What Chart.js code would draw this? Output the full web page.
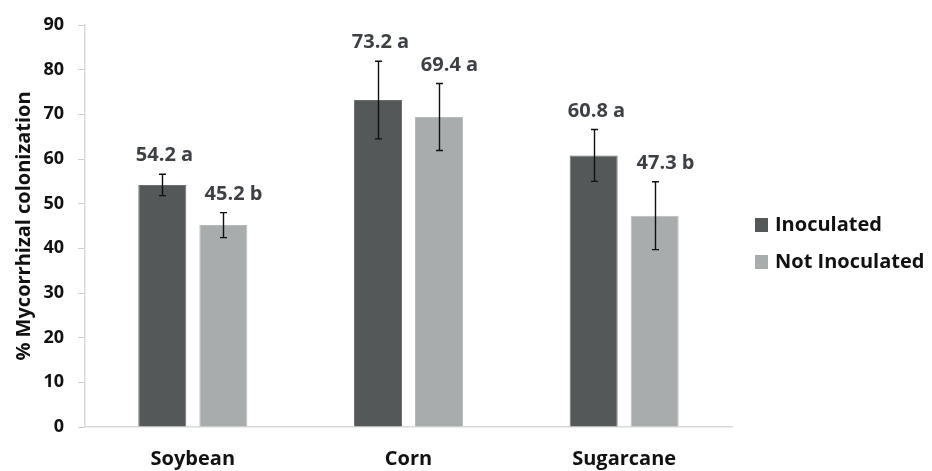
<!DOCTYPE html>
<html>
<head>
<meta charset="utf-8">
<script src="https://cdn.jsdelivr.net/npm/chart.js@4.4.1/dist/chart.umd.min.js"></script>
<style>
  html, body { margin: 0; padding: 0; background: #ffffff; }
  #wrap { width: 932px; height: 471px; position: relative; }
</style>
</head>
<body>
<div id="wrap"><canvas id="c" width="932" height="471"></canvas></div>
<script>
const categories = ['Soybean', 'Corn', 'Sugarcane'];
const seriesNames = ['Inoculated', 'Not Inoculated'];
const inoculated = [54.2, 73.2, 60.8];
const notInoculated = [45.2, 69.4, 47.3];
const inoculatedErr = [2.4, 8.7, 5.8];
const notInoculatedErr = [2.8, 7.5, 7.6];
const inoculatedLetters = ['a', 'a', 'a'];
const notInoculatedLetters = ['b', 'a', 'b'];
const yTicks = [0, 10, 20, 30, 40, 50, 60, 70, 80, 90];

const DARK = '#545859';
const LIGHT = '#a8acac';
const FONT = "'Open Sans', 'DejaVu Sans', sans-serif";

const errors = [inoculatedErr, notInoculatedErr];
const letters = [inoculatedLetters, notInoculatedLetters];
const labelOffsetX = [2, 10];

const annotatePlugin = {
  id: 'annotate',
  afterDatasetsDraw(chart) {
    const ctx = chart.ctx;
    const yScale = chart.scales.y;
    ctx.save();
    chart.data.datasets.forEach((ds, di) => {
      const meta = chart.getDatasetMeta(di);
      meta.data.forEach((bar, i) => {
        const v = ds.data[i];
        const e = errors[di][i];
        const x = Math.round(bar.x) + 0.5;
        const yt = yScale.getPixelForValue(v + e);
        const yb = yScale.getPixelForValue(v - e);
        ctx.strokeStyle = '#111111';
        ctx.lineWidth = 1.4;
        ctx.beginPath();
        ctx.moveTo(x, yt); ctx.lineTo(x, yb);
        ctx.moveTo(x - 3.5, yt); ctx.lineTo(x + 3.5, yt);
        ctx.moveTo(x - 3.5, yb); ctx.lineTo(x + 3.5, yb);
        ctx.stroke();
        ctx.fillStyle = '#3d4145';
        ctx.font = "bold 20px " + FONT;
        ctx.textAlign = 'center';
        ctx.textBaseline = 'alphabetic';
        ctx.fillText(v.toFixed(1) + ' ' + letters[di][i], x + labelOffsetX[di], yt - 13);
      });
    });
    ctx.restore();
  }
};

const legendPlugin = {
  id: 'customLegend',
  afterDraw(chart) {
    const ctx = chart.ctx;
    ctx.save();
    const rowsY = [225, 262];
    chart.data.datasets.forEach((ds, di) => {
      const cy = rowsY[di];
      ctx.fillStyle = ds.backgroundColor;
      ctx.fillRect(755, cy - 7, 13, 14);
      ctx.fillStyle = '#111111';
      ctx.font = "bold 20px " + FONT;
      ctx.textAlign = 'left';
      ctx.textBaseline = 'middle';
      ctx.fillText(ds.label, 775, cy);
    });
    ctx.restore();
  }
};

new Chart(document.getElementById('c'), {
  type: 'bar',
  data: {
    labels: categories,
    datasets: [
      { label: seriesNames[0], data: inoculated, backgroundColor: DARK, borderColor: '#6a6e6f', borderWidth: 1 },
      { label: seriesNames[1], data: notInoculated, backgroundColor: LIGHT, borderColor: '#b8bbbb', borderWidth: 1 }
    ]
  },
  options: {
    responsive: false,
    animation: false,
    devicePixelRatio: 1,
    layout: { padding: { top: 25, right: 200, left: 0, bottom: 0 } },
    datasets: { bar: { categoryPercentage: 0.566, barPercentage: 0.787 } },
    plugins: { legend: { display: false }, tooltip: { enabled: false } },
    scales: {
      x: {
        grid: { display: false, drawTicks: false },
        border: { display: true, color: '#d9d9d9', width: 1.5 },
        ticks: { color: '#111111', font: { family: FONT, weight: 'bold', size: 20 }, padding: 20 },
        afterFit(s) { s.height = 44; }
      },
      y: {
        min: 0, max: 90,
        afterBuildTicks(s) { s.ticks = yTicks.map(v => ({ value: v })); },
        grid: { drawOnChartArea: false, drawTicks: true, tickLength: 7, color: '#d0d0d0' },
        border: { display: true, color: '#d9d9d9', width: 1.5 },
        ticks: { color: '#111111', font: { family: FONT, weight: 'bold', size: 18 }, padding: 14 },
        title: { display: true, text: '% Mycorrhizal colonization', color: '#111111',
                 font: { family: FONT, weight: 'bold', size: 20 }, padding: { top: 12, bottom: 0 } },
        afterFit(s) { s.width = 85; }
      }
    }
  },
  plugins: [annotatePlugin, legendPlugin]
});
</script>
</body>
</html>
